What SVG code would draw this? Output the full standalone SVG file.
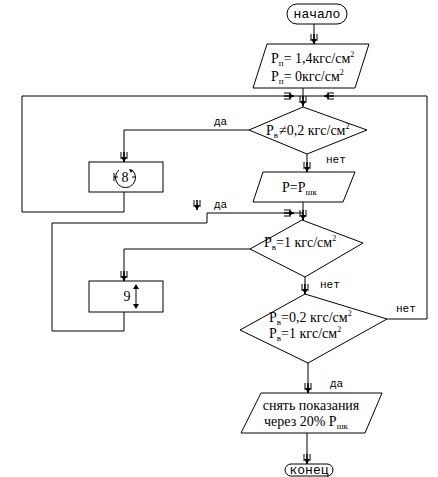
<svg xmlns="http://www.w3.org/2000/svg" width="438" height="477" viewBox="0 0 438 477">
<defs>
<marker id="ad" viewBox="0 0 10 8" refX="10" refY="4" markerWidth="10" markerHeight="8" markerUnits="userSpaceOnUse" orient="auto">
<path d="M0,1 H7 M0,7 H7 M0,4 H10" stroke="#000" stroke-width="1" fill="none"/>
<path d="M5,1 L10,4 L5,7 Z" fill="#000"/>
</marker>
</defs>
<style>
.s{fill:#fff;stroke:#000;stroke-width:1}
.l{fill:none;stroke:#000;stroke-width:1}
.t{font-family:'Liberation Serif','Times New Roman','DejaVu Serif',serif;font-size:14px;fill:#000}
.m{font-family:'Liberation Mono','Courier New',monospace;font-size:13px;fill:#000}
.lb{font-family:'Liberation Mono','Courier New',monospace;font-size:11px;fill:#000}
.sub{font-size:9px}
.sup{font-size:8px}
</style>
<rect width="438" height="477" fill="#fff"/>
<g id="connectors">
<path class="l" d="M314,24 V44" />
<line x1="314" y1="34" x2="314" y2="44" class="l" marker-end="url(#ad)"/>
<path class="l" d="M303,88 V107"/>
<line x1="303" y1="96" x2="303" y2="106" class="l" marker-end="url(#ad)"/>
<path class="l" d="M249,130 H124 V162"/>
<line x1="124" y1="152" x2="124" y2="162" class="l" marker-end="url(#ad)"/>
<path class="l" d="M124,192 V212 H22 V96 H303"/>
<line x1="284" y1="96" x2="294" y2="96" class="l" marker-end="url(#ad)"/>
<path class="l" d="M307,154 V172"/>
<line x1="307" y1="162" x2="307" y2="172" class="l" marker-end="url(#ad)"/>
<line x1="197" y1="200" x2="197" y2="210" class="l" marker-end="url(#ad)"/>
<path class="l" d="M303,202 V220"/>
<line x1="303" y1="210" x2="303" y2="220" class="l" marker-end="url(#ad)"/>
<path class="l" d="M250,249 H124 V281"/>
<line x1="124" y1="271" x2="124" y2="281" class="l" marker-end="url(#ad)"/>
<path class="l" d="M124,312 V331 H52 V223 H207 V213 H303"/>
<line x1="284" y1="213" x2="294" y2="213" class="l" marker-end="url(#ad)"/>
<path class="l" d="M305,277 V294"/>
<line x1="305" y1="284" x2="305" y2="294" class="l" marker-end="url(#ad)"/>
<path class="l" d="M387,319 H427 V96 H303"/>
<line x1="334" y1="96" x2="324" y2="96" class="l" marker-end="url(#ad)"/>
<path class="l" d="M308,363 V393"/>
<line x1="308" y1="383" x2="308" y2="393" class="l" marker-end="url(#ad)"/>
<path class="l" d="M307,433 V464"/>
<line x1="307" y1="454" x2="307" y2="464" class="l" marker-end="url(#ad)"/>
<text class="lb" x="214" y="125">да</text>
<text class="lb" x="326" y="163">нет</text>
<text class="lb" x="214" y="208">да</text>
<text class="lb" x="320" y="288">нет</text>
<text class="lb" x="396" y="312">нет</text>
<text class="lb" x="330" y="387">да</text>
</g>
<g id="start">
<rect class="s" x="287" y="4" width="60" height="20" rx="10"/>
<text class="m" x="317" y="18" text-anchor="middle">начало</text>
</g>
<g id="input1">
<path class="s" d="M267,44 H369 L355,88 H253 Z"/>
<text class="t" x="271" y="63" font-size="15">P<tspan class="sub" dy="3">п</tspan><tspan dy="-3">= 1,4кгс/см</tspan><tspan class="sup" dy="-6">2</tspan></text>
<text class="t" x="271" y="81" font-size="15">P<tspan class="sub" dy="3">п</tspan><tspan dy="-3">= 0кгс/см</tspan><tspan class="sup" dy="-6">2</tspan></text>
</g>
<g id="decision1">
<path class="s" d="M303,107 L367,130 L307,154 L249,130 Z"/>
<text class="t" x="266" y="135">P<tspan class="sub" dy="3">в</tspan><tspan dy="-3" dx="1">≠0,2 кгс/см</tspan><tspan class="sup" dy="-6">2</tspan></text>
</g>
<g id="box8">
<rect class="s" x="89" y="162" width="74" height="30"/>
<path class="l" d="M119,170 A10,10 0 1,0 132,170"/>
<path class="l" d="M114,173 V181 M114,177 H118 M132,177 H136"/>
<path d="M129,169 L133,170 L131,173 Z" fill="#000"/>
<text class="t" x="125" y="182" text-anchor="middle" font-size="12">8</text>
</g>
<g id="output1">
<path class="s" d="M263,172 H355 L343,202 H253 Z"/>
<text class="t" x="282" y="192">P=P<tspan class="sub" dy="3">шк</tspan></text>
</g>
<g id="decision2">
<path class="s" d="M302,220 L363,243 L305,277 L250,249 Z"/>
<text class="t" x="264" y="247">P<tspan class="sub" dy="3">в</tspan><tspan dy="-3">=1 кгс/см</tspan><tspan class="sup" dy="-6">2</tspan></text>
</g>
<g id="box9">
<rect class="s" x="89" y="281" width="74" height="31"/>
<text class="t" x="127" y="301" text-anchor="middle">9</text>
<line x1="136" y1="285" x2="136" y2="308" class="l"/>
<path d="M133,289 L136,284 L139,289 Z M133,304 L136,309 L139,304 Z" fill="#000"/>
</g>
<g id="decision3">
<path class="s" d="M305,294 L387,319 L308,363 L240,330 Z"/>
<text class="t" x="269" y="322">P<tspan class="sub" dy="3">в</tspan><tspan dy="-3">=0,2 кгс/см</tspan><tspan class="sup" dy="-6">2</tspan></text>
<text class="t" x="269" y="338">P<tspan class="sub" dy="3">в</tspan><tspan dy="-3">=1 кгс/см</tspan><tspan class="sup" dy="-6">2</tspan></text>
</g>
<g id="output2">
<path class="s" d="M261,393 H382 L365,433 H241 Z"/>
<text class="t" x="311" y="410" text-anchor="middle">снять показания</text>
<text class="t" x="264" y="426">через 20% P<tspan class="sub" dy="3">шк</tspan></text>
</g>
<g id="end">
<rect class="s" x="285" y="464" width="48" height="12" rx="6"/>
<text class="m" x="309" y="474" text-anchor="middle" font-size="12">конец</text>
</g>
</svg>
